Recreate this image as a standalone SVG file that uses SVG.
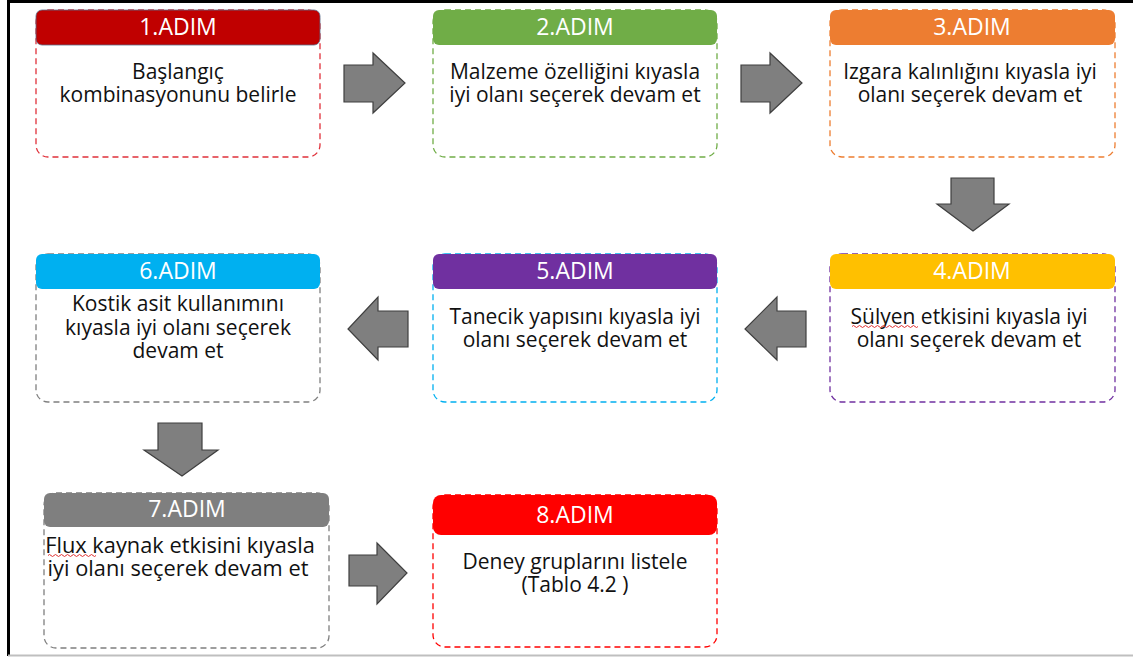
<svg xmlns="http://www.w3.org/2000/svg" width="1133" height="658" viewBox="0 0 1133 658">
<defs>
<style>
.bg{fill:#ffffff}
.hd{font-family:"Open Sans","Liberation Sans",sans-serif;font-size:23px;fill:#ffffff;text-anchor:middle}
.tx{font-family:"Open Sans","Liberation Sans",sans-serif;font-size:21px;fill:#111111;text-anchor:middle}
.tx7{font-size:21.8px}
.body{fill:#ffffff;stroke-width:1.3;stroke-dasharray:6 4}
.arrow{fill:#7f7f7f;stroke:#3f3f3f;stroke-width:1.2;stroke-linejoin:miter}
.wave{fill:none;stroke:#e03030;stroke-width:1}
</style>
</defs>
<rect class="bg" x="0" y="0" width="1133" height="658"/>
<line x1="7" y1="1.5" x2="1133" y2="1.5" stroke="#000" stroke-width="3"/>
<line x1="8.5" y1="0" x2="8.5" y2="656" stroke="#000" stroke-width="3"/>
<line x1="8" y1="655.5" x2="1133" y2="655.5" stroke="#bfbfbf" stroke-width="2"/>

<g id="node1">
<rect class="body" x="36" y="10" width="284" height="147" rx="12" stroke="#e0303a"/>
<rect x="36" y="10" width="284" height="35" rx="6" fill="#c00000" stroke="#5a6f8a" stroke-width="0.8"/>
<text class="hd" x="178" y="35">1.ADIM</text>
<text class="tx" x="178" y="79"><tspan x="178">Başlangıç</tspan><tspan x="178" dy="23">kombinasyonunu belirle</tspan></text>
</g>
<g id="node2">
<rect class="body" x="433" y="10" width="284" height="147" rx="12" stroke="#70ad47"/>
<rect x="433" y="10" width="284" height="35" rx="6" fill="#70ad47"/>
<text class="hd" x="575" y="35">2.ADIM</text>
<text class="tx" x="575" y="79"><tspan x="575">Malzeme özelliğini kıyasla</tspan><tspan x="575" dy="23">iyi olanı seçerek devam et</tspan></text>
</g>
<g id="node3">
<rect class="body" x="830" y="10" width="285" height="147" rx="12" stroke="#ed7d31"/>
<rect x="830" y="10" width="285" height="35" rx="6" fill="#ed7d31"/>
<text class="hd" x="972" y="35">3.ADIM</text>
<text class="tx" x="970" y="79"><tspan x="970">Izgara kalınlığını kıyasla iyi</tspan><tspan x="970" dy="23">olanı seçerek devam et</tspan></text>
</g>
<g id="node4">
<rect class="body" x="830" y="254" width="285" height="148" rx="12" stroke="#7030a0"/>
<rect x="830" y="254" width="285" height="35" rx="6" fill="#ffc000"/>
<text class="hd" x="972" y="279">4.ADIM</text>
<text class="tx" x="969" y="324"><tspan x="969">Sülyen etkisini kıyasla iyi</tspan><tspan x="969" dy="23">olanı seçerek devam et</tspan></text>
<path class="wave" d="M852 326.5 q1.5 -2 3 0 t3 0 t3 0 t3 0 t3 0 t3 0 t3 0 t3 0 t3 0 t3 0 t3 0 t3 0 t3 0 t3 0 t3 0 t3 0 t3 0 t3 0 t3 0 t3 0 t3 0 t3 0"/>
</g>
<g id="node5">
<rect class="body" x="433" y="254" width="284" height="148" rx="12" stroke="#00b0f0"/>
<rect x="433" y="254" width="284" height="35" rx="6" fill="#7030a0"/>
<text class="hd" x="575" y="279">5.ADIM</text>
<text class="tx" x="575" y="324"><tspan x="575">Tanecik yapısını kıyasla iyi</tspan><tspan x="575" dy="23">olanı seçerek devam et</tspan></text>
</g>
<g id="node6">
<rect class="body" x="36" y="254" width="284" height="148" rx="12" stroke="#7f7f7f"/>
<rect x="36" y="254" width="284" height="35" rx="6" fill="#00b0f0"/>
<text class="hd" x="178" y="279">6.ADIM</text>
<text class="tx" x="178" y="311"><tspan x="178">Kostik asit kullanımını</tspan><tspan x="178" dy="24">kıyasla iyi olanı seçerek</tspan><tspan x="178" dy="23">devam et</tspan></text>
</g>
<g id="node7">
<rect class="body" x="44" y="493" width="285" height="155" rx="12" stroke="#7f7f7f"/>
<rect x="44" y="493" width="285" height="34" rx="6" fill="#7f7f7f"/>
<text class="hd" x="187" y="517">7.ADIM</text>
<text class="tx tx7" x="180" y="553"><tspan x="180">Flux kaynak etkisini kıyasla</tspan><tspan x="178" dy="23">iyi olanı seçerek devam et</tspan></text>
<path class="wave" d="M48 555.5 q1.5 -2 3 0 t3 0 t3 0 t3 0 t3 0 t3 0 t3 0 t3 0 t3 0 t3 0 t3 0 t3 0 t3 0 t3 0 t3 0 t3 0"/>
</g>
<g id="node8">
<rect class="body" x="433" y="495" width="284" height="152" rx="12" stroke="#ff0000"/>
<rect x="433" y="495" width="284" height="40" rx="8" fill="#ff0000"/>
<text class="hd" x="575" y="523">8.ADIM</text>
<text class="tx" x="575" y="569"><tspan x="575">Deney gruplarını listele</tspan><tspan x="575" dy="23">(Tablo 4.2 )</tspan></text>
</g>

<g id="connectors">
<polygon class="arrow" points="344,65 373,65 373,53 405,83 373,113 373,102 344,102"/>
<polygon class="arrow" points="741,65 770,65 770,53 802,83 770,113 770,102 741,102"/>
<polygon class="arrow" points="951,178 994,178 994,204 1009,204 973,231 937,204 951,204"/>
<polygon class="arrow" points="806,311 777,311 777,297 745,329 777,360 777,347 806,347"/>
<polygon class="arrow" points="408,311 378,311 378,297 348,329 378,360 378,347 408,347"/>
<polygon class="arrow" points="158,423 202,423 202,450 218,450 182,476 144,450 158,450"/>
<polygon class="arrow" points="349,555 377,555 377,543 407,573 377,604 377,586 349,586"/>
</g>
</svg>
